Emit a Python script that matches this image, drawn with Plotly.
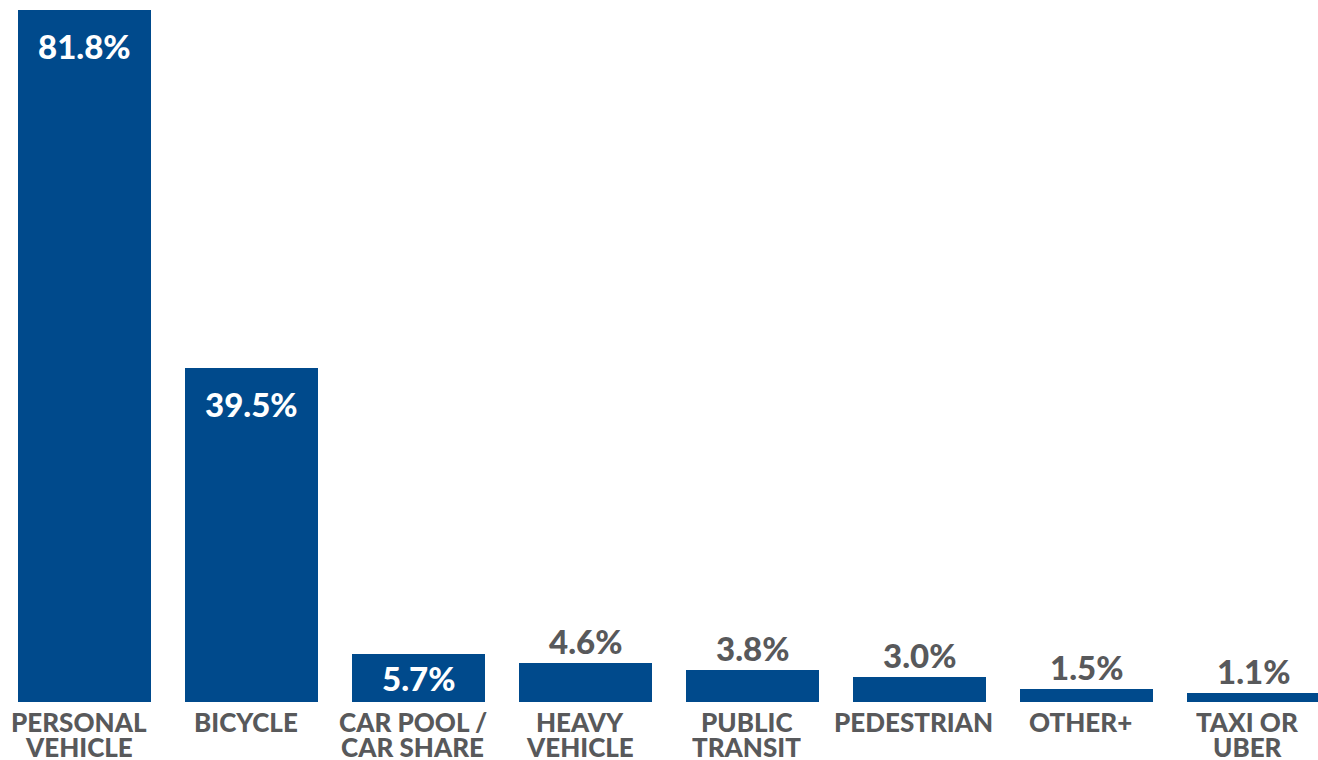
import plotly.graph_objects as go

# Share of respondents by mode of travel
category_lines = [["PERSONAL", "VEHICLE"], ["BICYCLE"], ["CAR POOL /", "CAR SHARE"], ["HEAVY", "VEHICLE"],
                  ["PUBLIC", "TRANSIT"], ["PEDESTRIAN"], ["OTHER+"], ["TAXI OR", "UBER"]]
values = [81.8, 39.5, 5.7, 4.6, 3.8, 3.0, 1.5, 1.1]
value_labels = ["81.8%", "39.5%", "5.7%", "4.6%", "3.8%", "3.0%", "1.5%", "1.1%"]

BAR = "#004a8c"
GREY = "#58595b"
FONT = "Lato"

Y_MAX = 82.95
PLOT_H = 702  # pixel height of the plotting area
PX_PER_UNIT = PLOT_H / Y_MAX

x = list(range(len(values)))

fig = go.Figure(go.Bar(
    x=x, y=values, width=0.796,
    marker=dict(color=BAR, line=dict(width=0)),
    hoverinfo="skip",
))

annotations = []
for i, (v, lab) in enumerate(zip(values, value_labels)):
    inside = v > 5
    if inside:
        # near the top of the bar, or centred when the bar is short
        shift = -min(36, v * PX_PER_UNIT / 2)
    else:
        shift = 22
    annotations.append(dict(
        x=i, y=v, xref="x", yref="y", text=lab, showarrow=False,
        yanchor="middle", yshift=shift,
        font=dict(family=FONT, size=33, weight=900, color="white" if inside else GREY),
    ))
    for k, line in enumerate(category_lines[i]):
        annotations.append(dict(
            x=i, y=0, xref="x", yref="paper", text=line, showarrow=False,
            yanchor="middle", yshift=-20 - 25 * k, xshift=-6,
            height=24, valign="middle", borderpad=0,
            font=dict(family=FONT, size=26, weight=900, color=GREY),
        ))

fig.update_layout(
    width=1318, height=760,
    margin=dict(l=0, r=0, t=0, b=760 - PLOT_H),
    paper_bgcolor="white", plot_bgcolor="white",
    showlegend=False,
    bargap=0,
    xaxis=dict(range=[-0.506, 7.386], showticklabels=False, showgrid=False,
               zeroline=False, showline=False, fixedrange=True),
    yaxis=dict(range=[0, Y_MAX], showticklabels=False, showgrid=False,
               zeroline=False, showline=False, fixedrange=True),
    annotations=annotations,
)

fig.write_html("out.html", config={"displayModeBar": False})
